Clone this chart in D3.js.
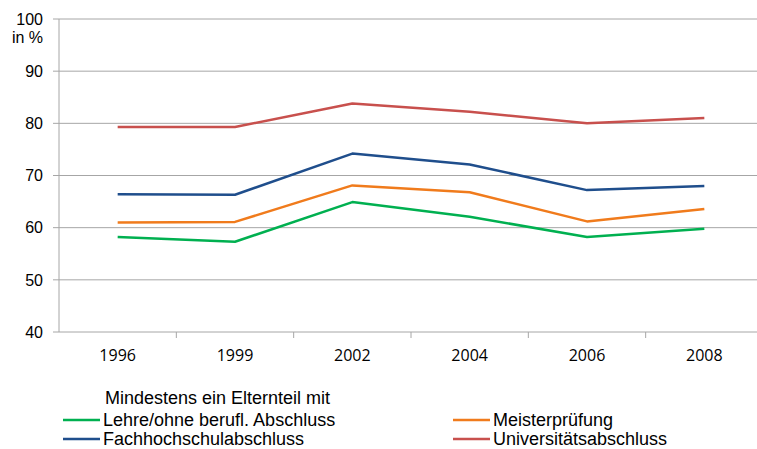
<!DOCTYPE html>
<html>
<head>
<meta charset="utf-8">
<script src="https://cdn.jsdelivr.net/npm/d3@7"></script>
<style>
  body { margin: 0; background: #fff; overflow: hidden; }
  text { font-family: "Liberation Sans", Arial, sans-serif; fill: #000; }
</style>
</head>
<body>
<svg width="757" height="449" viewBox="0 0 757 449"></svg>
<script>
const years = ["1996", "1999", "2002", "2004", "2006", "2008"];
const yTicks = [40, 50, 60, 70, 80, 90, 100];

const lehre = [58.2, 57.3, 64.9, 62.1, 58.2, 59.8];
const meister = [61.0, 61.1, 68.1, 66.8, 61.2, 63.6];
const fachhochschule = [66.4, 66.3, 74.2, 72.1, 67.2, 68.0];
const universitaet = [79.3, 79.3, 83.8, 82.2, 80.0, 81.0];

const seriesNames = ["Lehre/ohne berufl. Abschluss", "Meisterprüfung", "Fachhochschulabschluss", "Universitätsabschluss"];
const seriesColors = ["#00b050", "#f07b1c", "#1f4e8c", "#c8504d"];

const series = [lehre, meister, fachhochschule, universitaet].map((values, i) => ({
    name: seriesNames[i], color: seriesColors[i], values
}));

const svg = d3.select("svg");

const x = d3.scaleBand().domain(years).range([59, 763]);
const y = d3.scaleLinear().domain([40, 100]).range([332, 19]);

// gridlines
svg.append("g")
    .selectAll("line")
    .data(yTicks.filter(d => d > 40))
    .enter()
    .append("line")
    .attr("x1", 59).attr("x2", 757)
    .attr("y1", d => y(d)).attr("y2", d => y(d))
    .attr("stroke", "#a6a6a6").attr("stroke-width", 1);

// y axis
svg.append("line")
    .attr("x1", 59).attr("x2", 59)
    .attr("y1", y(100)).attr("y2", y(40))
    .attr("stroke", "#a6a6a6");

svg.append("g")
    .selectAll("line")
    .data(yTicks)
    .enter()
    .append("line")
    .attr("x1", 53).attr("x2", 59)
    .attr("y1", d => y(d)).attr("y2", d => y(d))
    .attr("stroke", "#a6a6a6");

svg.append("g")
    .selectAll("text")
    .data(yTicks)
    .enter()
    .append("text")
    .attr("x", 43)
    .attr("y", d => y(d))
    .attr("dy", "0.36em")
    .attr("text-anchor", "end")
    .style("font-size", "16px")
    .text(d => d);

svg.append("text")
    .attr("x", 43).attr("y", 43)
    .attr("text-anchor", "end")
    .style("font-size", "16px")
    .text("in %");

// x axis
svg.append("line")
    .attr("x1", 59).attr("x2", 757)
    .attr("y1", y(40)).attr("y2", y(40))
    .attr("stroke", "#a6a6a6");

svg.append("g")
    .selectAll("line")
    .data(years.slice(1))
    .enter()
    .append("line")
    .attr("x1", d => x(d)).attr("x2", d => x(d))
    .attr("y1", y(40)).attr("y2", y(40) + 6)
    .attr("stroke", "#a6a6a6");

svg.append("g")
    .selectAll("text")
    .data(years)
    .enter()
    .append("text")
    .attr("x", d => x(d) + x.bandwidth() / 2)
    .attr("y", 361)
    .attr("text-anchor", "middle")
    .style("font-family", "'Open Sans', sans-serif")
    .style("font-size", "16px")
    .text(d => d);

// lines
const line = d3.line()
    .x((d, i) => x(years[i]) + x.bandwidth() / 2)
    .y(d => y(d));

svg.append("g")
    .selectAll("path")
    .data(series)
    .enter()
    .append("path")
    .attr("d", d => line(d.values))
    .attr("fill", "none")
    .attr("stroke", d => d.color)
    .attr("stroke-width", 2.5)
    .attr("stroke-linejoin", "round");

// legend
svg.append("text")
    .attr("x", 105).attr("y", 404)
    .style("font-size", "18px")
    .text("Mindestens ein Elternteil mit");

const legend = svg.append("g")
    .selectAll("g")
    .data(series)
    .enter()
    .append("g")
    .attr("transform", (d, i) => `translate(${i % 2 ? 453 : 63},${i < 2 ? 420 : 439})`);

legend.append("line")
    .attr("x1", 0).attr("x2", 37)
    .attr("stroke", d => d.color)
    .attr("stroke-width", 2.5);

legend.append("text")
    .attr("x", 40)
    .attr("y", 6)
    .style("font-size", "18px")
    .text(d => d.name);
</script>
</body>
</html>
